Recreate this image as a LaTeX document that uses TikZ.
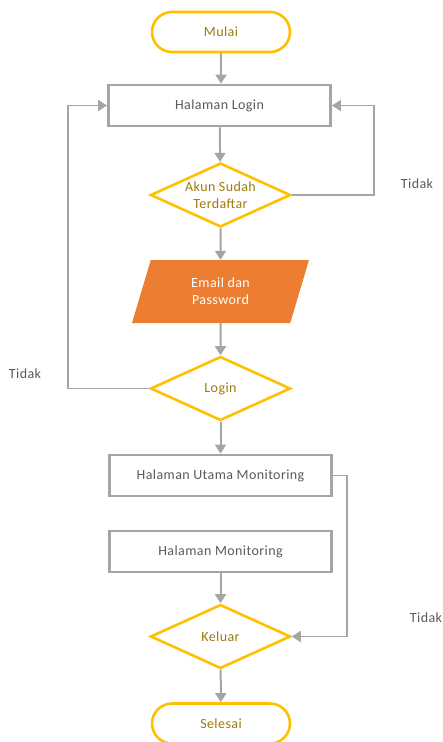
\documentclass[tikz,border=0pt]{standalone}
\usepackage{fontspec}
\setmainfont{Carlito}[LetterSpace=3]
\usetikzlibrary{shapes.geometric,arrows.meta}

\definecolor{kuning}{HTML}{FFC000}
\definecolor{abu}{HTML}{A5A5A5}
\definecolor{oranye}{HTML}{ED7D31}
\definecolor{emas}{HTML}{9C7A0E}
\definecolor{teks}{HTML}{595959}

\tikzset{
  terminal/.style={rectangle, rounded corners=20pt, draw=kuning, line width=2.6pt,
                   minimum width=138pt, minimum height=40pt, text=emas},
  halaman/.style={rectangle, draw=abu, line width=2.8pt,
                  minimum width=222pt, minimum height=41pt, text=teks},
  keputusan/.style={diamond, draw=kuning, line width=2.6pt, inner sep=0pt, aspect=2.2,
                    minimum width=140pt, minimum height=64pt, text=emas,
                    align=center},
  masukan/.style={trapezium, trapezium left angle=55, trapezium right angle=125,
                  trapezium stretches body, fill=oranye, text=white, align=center,
                  minimum width=177pt, minimum height=63pt, inner sep=0pt},
  alur/.style={draw=abu, line width=2pt, -{Triangle[width=11pt,length=9pt]}},
  balik/.style={draw=abu, line width=1.4pt, -{Triangle[width=11pt,length=9pt]}},
  ket/.style={text=teks}
}

\begin{document}
\begin{tikzpicture}[x=1pt, y=-1pt, font=\fontsize{14}{17}\selectfont]
\useasboundingbox (0,0) rectangle (442,742);

% simpul utama
\node[terminal]  (mulai)   at (221,32)    {Mulai};
\node[halaman]   (login)   at (219.5,105.5) {Halaman Login};
\node[keputusan] (akun)    at (220.5,195) {Akun Sudah\\Terdaftar};
\node[masukan]   (email)   at (220.5,291.5) {Email dan\\Password};
\node[keputusan] (cek)     at (220.5,388.5) {Login};
\node[halaman]   (utama)   at (220.5,475.5) {Halaman Utama Monitoring};
\node[halaman]   (monitor) at (220.5,551.5) {Halaman Monitoring};
\node[keputusan] (keluar)  at (220.5,636.5) {Keluar};
\node[terminal]  (selesai) at (221,723.5)  {Selesai};

% titik belok
\coordinate (ka) at (374,195);
\coordinate (kb) at (374,105.5);
\coordinate (la) at (68,388.5);
\coordinate (lb) at (68,105.5);
\coordinate (ua) at (347,475.5);
\coordinate (ub) at (347,636.5);

% label
\node[ket] (tidak1) at (417,184) {Tidak};
\node[ket] (tidak2) at (25,374)  {Tidak};
\node[ket] (tidak3) at (426,618) {Tidak};

% panah lurus
\draw[alur] (mulai) -- (mulai |- login.north);
\draw[alur] (login) -- (akun);
\draw[alur] (akun) -- (email);
\draw[alur] (email) -- (cek);
\draw[alur] (cek) -- (utama);
\draw[alur] (monitor) -- (keluar);
\draw[alur] (keluar) -- (selesai);

% panah balik
\draw[balik] (akun.east) -- (ka) -- (kb) -- (login.east);
\draw[balik] (cek.west) -- (la) -- (lb) -- (login.west);
\draw[balik] (utama.east) -- (ua) -- (ub) -- (keluar.east);
\end{tikzpicture}
\end{document}
